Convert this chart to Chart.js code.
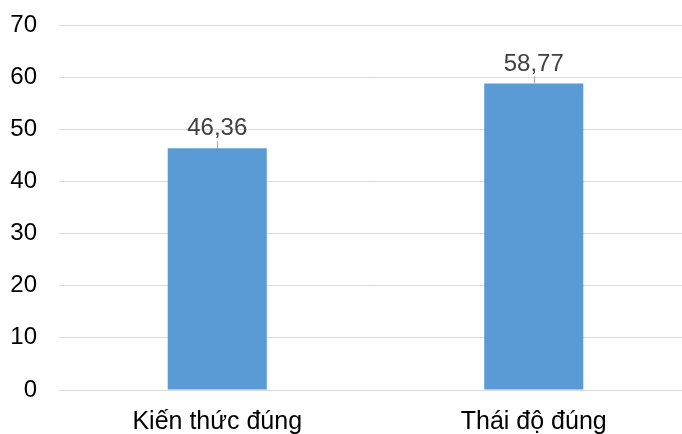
<!DOCTYPE html>
<html>
<head>
<meta charset="utf-8">
<script src="https://cdn.jsdelivr.net/npm/chart.js@4.4.1/dist/chart.umd.min.js"></script>
<style>
  html, body { margin: 0; padding: 0; background: #ffffff; overflow: hidden; }
  #wrap { position: relative; width: 692px; height: 440px; }
</style>
</head>
<body>
<div id="wrap"><canvas id="chart" width="692" height="440"></canvas></div>
<script>
// Percentages of correct answers
const categories = ['Kiến thức đúng', 'Thái độ đúng'];
const values = [46.36, 58.77];
const valueLabels = ['46,36', '58,77'];
const yTicks = [0, 10, 20, 30, 40, 50, 60, 70];

const FONT = '"Liberation Sans", Arial, sans-serif';

// Value labels above each bar with a short leader line down to the bar top
const barLabels = {
  id: 'barLabels',
  afterDatasetsDraw(chart) {
    const ctx = chart.ctx;
    const meta = chart.getDatasetMeta(0);
    ctx.save();
    meta.data.forEach((bar, i) => {
      const x = bar.x;
      const top = bar.y;
      ctx.strokeStyle = '#a6a6a6';
      ctx.lineWidth = 1;
      ctx.beginPath();
      ctx.moveTo(Math.round(x) + 0.5, top - 7);
      ctx.lineTo(Math.round(x) + 0.5, top);
      ctx.stroke();
      ctx.fillStyle = '#404040';
      ctx.font = '24px ' + FONT;
      ctx.textAlign = 'center';
      ctx.textBaseline = 'alphabetic';
      ctx.fillText(valueLabels[i], x, top - 13);
    });
    ctx.restore();
  }
};

new Chart(document.getElementById('chart'), {
  type: 'bar',
  data: {
    labels: categories,
    datasets: [{
      data: values,
      backgroundColor: '#5b9bd5',
      borderWidth: 0,
      barPercentage: 0.313,
      categoryPercentage: 1.0
    }]
  },
  options: {
    responsive: false,
    animation: false,
    devicePixelRatio: 1,
    layout: { padding: { left: 10, top: 25, right: 0, bottom: 0 } },
    plugins: { legend: { display: false }, tooltip: { enabled: false } },
    scales: {
      x: {
        grid: { display: false, drawTicks: false },
        border: { display: true, color: '#d9d9d9', width: 1 },
        ticks: { color: '#000000', font: { family: FONT, size: 25 }, padding: 17 },
        afterFit(scale) { scale.height = 50; scale.paddingLeft = 0; scale.paddingRight = 0; }
      },
      y: {
        min: 0,
        max: 70,
        afterBuildTicks(scale) { scale.ticks = yTicks.map(v => ({ value: v })); },
        grid: { color: '#d9d9d9', drawTicks: false },
        border: { display: false },
        ticks: { color: '#000000', font: { family: FONT, size: 24 }, padding: 22 },
        afterFit(scale) { scale.width = 49; scale.paddingTop = 0; scale.paddingBottom = 0; }
      }
    }
  },
  plugins: [barLabels]
});
</script>
</body>
</html>
